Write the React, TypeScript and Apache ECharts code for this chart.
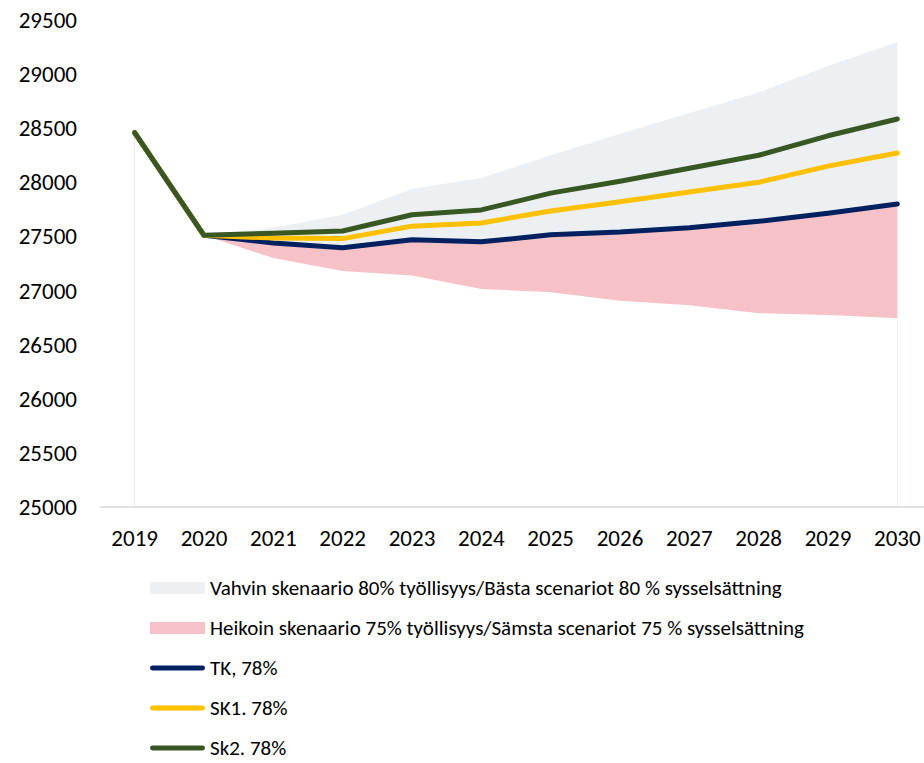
import React, { useEffect, useRef } from "react";
import * as echarts from "echarts";

const years = ["2019", "2020", "2021", "2022", "2023", "2024", "2025", "2026", "2027", "2028", "2029", "2030"];
const vahvinTop = [null, 27510, 27580, 27700, 27940, 28040, 28250, 28450, 28640, 28830, 29075, 29297];
const heikoinLow = [null, 27510, 27300, 27180, 27140, 27015, 26985, 26905, 26865, 26790, 26775, 26745];
const tk = [28460, 27510, 27440, 27395, 27470, 27450, 27515, 27540, 27580, 27640, 27715, 27800];
const sk1 = [28460, 27510, 27485, 27480, 27595, 27625, 27735, 27820, 27910, 28000, 28150, 28271];
const sk2 = [28460, 27510, 27530, 27550, 27700, 27745, 27900, 28010, 28130, 28250, 28430, 28585];
const yTicks = { min: 25000, max: 29500, interval: 500 };

const nameVahvin = "Vahvin skenaario 80% työllisyys/Bästa scenariot 80 % sysselsättning";
const nameHeikoin = "Heikoin skenaario 75% työllisyys/Sämsta scenariot 75 % sysselsättning";
const nameTK = "TK, 78%";
const nameSK1 = "SK1. 78%";
const nameSK2 = "Sk2. 78%";

const FONT = "Carlito, Lato, sans-serif";
const LINE_ICON = "path://M2.5,0 L53.5,0 A2.5,2.5 0 0 1 53.5,5 L2.5,5 A2.5,2.5 0 0 1 2.5,0 Z";

export default function App() {
  const ref = useRef<HTMLDivElement>(null);
  useEffect(() => {
    if (!ref.current) return;
    const chart = echarts.init(ref.current, null, { renderer: "svg" });
    const pinkTop = tk.map((v, i) => (heikoinLow[i] === null ? null : v));
    const lineSeries = (name: string, data: any[], color: string) => ({
      name,
      type: "line",
      data,
      color,
      symbol: "none",
      showSymbol: false,
      lineStyle: { color, width: 5, cap: "round", join: "round" },
      z: 5,
    });
    chart.setOption({
      animation: false,
      grid: { left: 100, right: -8, top: 20, bottom: 256, containLabel: false, outerBoundsMode: "none" },
      legend: {
        orient: "vertical",
        left: 150,
        top: 576,
        height: 240,
        padding: 0,
        itemWidth: 55,
        itemHeight: 12,
        itemGap: 16,
        selectedMode: false,
        textStyle: { fontFamily: FONT, fontSize: 21, color: "#000", lineHeight: 24 },
        itemStyle: { borderWidth: 0 },
        data: [
          { name: nameVahvin, icon: "rect" },
          { name: nameHeikoin, icon: "rect" },
          { name: nameTK, icon: LINE_ICON },
          { name: nameSK1, icon: LINE_ICON },
          { name: nameSK2, icon: LINE_ICON },
        ],
      },
      xAxis: {
        type: "category",
        data: years,
        boundaryGap: true,
        z: 10,
        axisLine: { show: true, lineStyle: { color: "#d9d9d9", width: 1.5 } },
        axisTick: { show: false },
        axisLabel: { fontFamily: FONT, fontSize: 23, color: "#000", margin: 19 },
        splitLine: { show: false },
      },
      yAxis: {
        type: "value",
        min: yTicks.min,
        max: yTicks.max,
        interval: yTicks.interval,
        axisLine: { show: false },
        axisTick: { show: false },
        splitLine: { show: false },
        axisLabel: {
          fontFamily: FONT,
          fontSize: 23,
          color: "#000",
          margin: 23,
          formatter: (v: number) => String(v),
        },
      },
      series: [
        {
          name: nameVahvin,
          type: "line",
          data: vahvinTop,
          color: "#ecf0f2",
          symbol: "none",
          lineStyle: { width: 0 },
          areaStyle: { color: "#ecf0f2", opacity: 1, origin: "start" },
          z: 2,
        },
        {
          name: nameHeikoin,
          type: "line",
          data: pinkTop,
          color: "#f6c2c7",
          symbol: "none",
          lineStyle: { width: 0 },
          areaStyle: { color: "#f6c2c7", opacity: 1, origin: "start" },
          z: 3,
        },
        {
          name: "base",
          type: "line",
          data: heikoinLow,
          color: "#ffffff",
          symbol: "none",
          lineStyle: { width: 0 },
          areaStyle: { color: "#ffffff", opacity: 1, origin: "start" },
          z: 4,
          markLine: {
            silent: true,
            symbol: "none",
            label: { show: false },
            lineStyle: { color: "#f9e3e6", width: 1, type: "solid" },
            data: [[{ coord: ["2019", yTicks.min] }, { coord: ["2019", sk2[0]] }]],
          },
        },
        lineSeries(nameTK, tk, "#002060"),
        lineSeries(nameSK1, sk1, "#ffc000"),
        lineSeries(nameSK2, sk2, "#385723"),
      ],
    });
    return () => chart.dispose();
  }, []);
  return (
    <div
      ref={ref}
      style={{ position: "absolute", left: 0, top: 0, width: 924, height: 763, background: "#fff" }}
    />
  );
}
